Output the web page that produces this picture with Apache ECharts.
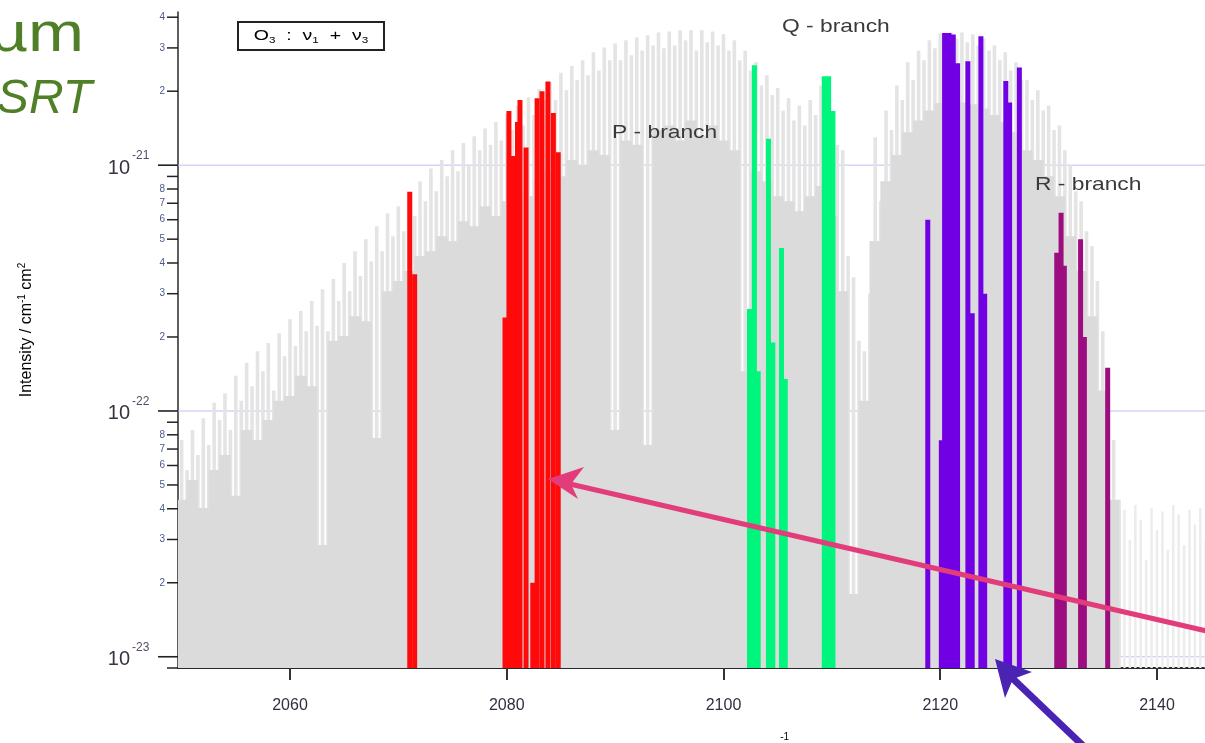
<!DOCTYPE html>
<html><head><meta charset="utf-8">
<script src="https://cdn.jsdelivr.net/npm/echarts@6/dist/echarts.min.js"></script>
<style>html,body{margin:0;padding:0;background:#fff;overflow:hidden}#c{width:1205px;height:743px}</style>
</head><body><div id="c"></div>
<script>
// ---- axes ----
const X_MIN = 2049.665, X_MAX = 2144.43;
const Y_MIN = 9e-24, Y_MAX = 4.2e-21;
const xTickValues = [2060, 2080, 2100, 2120, 2140];
const yMajorValues = [1e-23, 1e-22, 1e-21];
const yMajorExponents = ['-23', '-22', '-21'];
const yMinorValues = [9e-24, 2e-23, 3e-23, 4e-23, 5e-23, 6e-23, 7e-23, 8e-23, 9e-23,
  2e-22, 3e-22, 4e-22, 5e-22, 6e-22, 7e-22, 8e-22, 9e-22, 2e-21, 3e-21, 4e-21];
const yMinorLabels = ['', '2', '3', '4', '5', '6', '7', '8', '',
  '2', '3', '4', '5', '6', '7', '8', '', '2', '3', '4'];

// ---- grey spectrum: strong lines (0.5 cm-1 grid from 2050) ----
const strongStart = 2050, strongStep = 0.5;
const strongIntensity = [
  7.62e-23, 5.75e-23, 8.37e-23, 6.62e-23, 9.35e-23, 7.27e-23, 1.08e-22, 9.19e-23, 1.18e-22, 8.37e-23,
  1.39e-22, 1.10e-22, 1.57e-22, 1.26e-22, 1.75e-22, 1.45e-22, 1.89e-22, 1.21e-22, 2.07e-22, 1.67e-22,
  2.36e-22, 1.84e-22, 2.55e-22, 2.11e-22, 2.80e-22, 2.22e-22, 3.13e-22, 2.11e-22, 3.44e-22, 2.80e-22,
  4.00e-22, 3.07e-22, 4.47e-22, 3.54e-22, 5.00e-22, 4.07e-22, 5.65e-22, 4.47e-22, 6.38e-22, 5.14e-22,
  6.81e-22, 5.39e-22, 7.48e-22, 6.21e-22, 8.61e-22, 7.14e-22, 9.70e-22, 7.84e-22, 1.05e-21, 9.02e-22,
  1.15e-21, 9.45e-22, 1.23e-21, 1.00e-21, 1.31e-21, 1.15e-21, 1.41e-21, 1.21e-21, 1.50e-21, 1.26e-21,
  1.62e-21, 1.39e-21, 1.75e-21, 1.45e-21, 1.89e-21, 1.60e-21, 2.04e-21, 1.84e-21, 2.18e-21, 1.84e-21,
  2.38e-21, 2.02e-21, 2.53e-21, 2.22e-21, 2.67e-21, 2.32e-21, 2.88e-21, 2.43e-21, 3.01e-21, 2.67e-21,
  3.13e-21, 2.67e-21, 3.22e-21, 2.80e-21, 3.31e-21, 2.93e-21, 3.38e-21, 3.07e-21, 3.47e-21, 2.99e-21,
  3.50e-21, 3.07e-21, 3.54e-21, 3.22e-21, 3.54e-21, 2.93e-21, 3.54e-21, 3.16e-21, 3.50e-21, 3.07e-21,
  3.41e-21, 2.93e-21, 3.22e-21, 2.67e-21, 2.93e-21, 2.43e-21, 2.62e-21, 2.11e-21, 2.32e-21, 1.93e-21,
  2.06e-21, 1.67e-21, 1.87e-21, 1.52e-21, 1.75e-21, 1.45e-21, 1.84e-21, 1.60e-21, 2.11e-21, 1.84e-21,
  1.67e-21, 1.21e-21, 1.15e-21, 4.27e-22, 3.50e-22, 1.93e-22, 1.75e-22, 3.00e-22, 1.30e-21, 7.14e-22,
  1.67e-21, 1.39e-21, 2.11e-21, 1.84e-21, 2.62e-21, 2.22e-21, 2.93e-21, 2.67e-21, 3.22e-21, 2.99e-21,
  3.44e-21, 3.22e-21, 3.47e-21, 3.28e-21, 3.47e-21, 3.16e-21, 3.41e-21, 3.07e-21, 3.28e-21, 2.93e-21,
  3.07e-21, 2.67e-21, 2.88e-21, 2.43e-21, 2.62e-21, 2.22e-21, 2.22e-21, 1.84e-21, 2.02e-21, 1.67e-21,
  1.75e-21, 1.39e-21, 1.45e-21, 1.15e-21, 1.00e-21, 7.84e-22, 7.14e-22, 5.39e-22, 4.69e-22, 3.38e-22,
  2.11e-22, 1.32e-22, 7.62e-23, 4.35e-23
];
// ---- grey spectrum: dense weak background (1 cm-1 grid from 2050) ----
const baseStart = 2050, baseStep = 1;
const baseIntensity = [
  4.35e-23, 5.24e-23, 4.03e-23, 5.75e-23, 6.62e-23, 4.52e-23, 8.37e-23, 7.62e-23, 9.19e-23, 1.10e-22,
  1.15e-22, 1.39e-22, 1.26e-22, 2.85e-23, 1.93e-22, 2.02e-22, 2.43e-22, 2.32e-22, 7.76e-23, 3.07e-22,
  3.38e-22, 3.71e-22, 4.27e-22, 4.47e-22, 5.14e-22, 4.91e-22, 5.92e-22, 5.65e-22, 6.81e-22, 6.21e-22,
  7.14e-22, 7.84e-22, 7.48e-22, 8.61e-22, 9.45e-22, 9.02e-22, 1.05e-21, 1.00e-21, 1.15e-21, 1.10e-21,
  8.37e-23, 1.26e-21, 1.21e-21, 7.27e-23, 1.39e-21, 1.45e-21, 1.26e-21, 1.52e-21, 1.32e-21, 1.45e-21,
  1.26e-21, 1.15e-21, 1.45e-22, 9.45e-22, 8.61e-22, 7.48e-22, 7.14e-22, 6.50e-22, 7.48e-22, 8.22e-22,
  6.21e-22, 3.07e-22, 1.80e-23, 1.10e-22, 4.91e-22, 8.61e-22, 1.10e-21, 1.36e-21, 1.52e-21, 1.67e-21,
  1.79e-21, 1.80e-21, 1.80e-21, 1.77e-21, 1.70e-21, 1.60e-21, 1.50e-21, 1.36e-21, 1.15e-21, 1.05e-21,
  9.02e-22, 7.48e-22, 5.14e-22, 3.71e-22, 2.43e-22, 1.21e-22, 4.35e-23
];
// ---- faint lines beyond the band (0.5 cm-1 grid from 2137) ----
const faintStart = 2137, faintStep = 0.5;
const faintIntensity = [3.96e-23, 2.99e-23, 4.15e-23, 3.61e-23, 2.48e-23, 4.03e-23, 3.28e-23, 3.90e-23,
  2.72e-23, 4.15e-23, 3.80e-23, 2.85e-23, 3.96e-23, 3.45e-23, 4.03e-23, 2.99e-23];

// ---- highlighted lines ----
const redWavenumber = [2071.05, 2071.5, 2079.84, 2080.2, 2080.58, 2080.99, 2081.22, 2081.78, 2082.4, 2082.8, 2083.25, 2083.8, 2084.3, 2084.75];
const redIntensity = [7.8e-22, 3.6e-22, 2.4e-22, 1.66e-21, 1.09e-21, 1.5e-21, 1.84e-21, 1.18e-21, 2.0e-23, 1.87e-21, 2.0e-21, 2.19e-21, 1.63e-21, 1.13e-21];
const greenWavenumber = [2102.4, 2102.85, 2103.2, 2104.15, 2104.55, 2105.35, 2105.7, 2109.3, 2109.7, 2110.1];
const greenIntensity = [2.6e-22, 2.55e-21, 1.45e-22, 1.28e-21, 1.9e-22, 4.6e-22, 1.35e-22, 2.3e-21, 2.3e-21, 1.66e-21];
const purpleWavenumber = [2118.85, 2120.1, 2120.4, 2120.8, 2121.2, 2121.6, 2122.55, 2122.95, 2123.75, 2124.1, 2126.05, 2126.4, 2127.3];
const purpleIntensity = [6.0e-22, 7.6e-23, 3.45e-21, 3.45e-21, 3.4e-21, 2.6e-21, 2.65e-21, 2.5e-22, 3.35e-21, 3.0e-22, 2.2e-21, 1.8e-21, 2.5e-21];
const magentaWavenumber = [2130.75, 2131.15, 2131.45, 2132.95, 2133.3, 2135.45];
const magentaIntensity = [4.4e-22, 6.4e-22, 3.9e-22, 5.0e-22, 2.0e-22, 1.5e-22];

// ---- helpers ----
const FONT = 'Liberation Sans, Arial, sans-serif';
function onGrid(start, step, vals) { return vals.map((v, i) => [+(start + i * step).toFixed(3), v]); }
function pairs(ws, vs) { return ws.map((w, i) => [w, vs[i]]); }
function sticks(name, data, color, width, z) {
  return {
    type: 'custom', name, data, z, silent: true, clip: true, encode: { x: 0, y: 1 },
    renderItem(params, api) {
      const x = api.value(0), v = api.value(1);
      const top = api.coord([x, v]), bot = api.coord([x, Y_MIN]);
      let w = width;
      if (w === 'step') w = Math.abs(api.coord([x + 0.5, v])[0] - api.coord([x - 0.5, v])[0]) + 0.6;
      return { type: 'rect', shape: { x: top[0] - w / 2, y: top[1], width: w, height: Math.max(0, bot[1] - top[1]) }, style: { fill: color } };
    }
  };
}

const chart = echarts.init(document.getElementById('c'), null, { renderer: 'canvas', width: 1205, height: 743 });

const option = {
  animation: false,
  backgroundColor: '#ffffff',
  grid: { left: 178, right: 0, top: 12, bottom: 75, containLabel: false, outerBoundsMode: 'none' },
  xAxis: {
    type: 'value', min: X_MIN, max: X_MAX,
    axisLine: { show: true, onZero: false, lineStyle: { color: '#2a2a2a', width: 2 } },
    axisTick: { show: true, customValues: xTickValues, length: 12, lineStyle: { color: '#333', width: 2 } },
    axisLabel: { customValues: xTickValues, formatter: v => String(Math.round(v)), margin: 30,
      fontFamily: FONT, fontSize: 16, color: '#2e3142' },
    splitLine: { show: false }
  },
  yAxis: {
    type: 'log', logBase: 10, min: Y_MIN, max: Y_MAX,
    axisLine: { show: true, lineStyle: { color: '#2a2a2a', width: 1.5 } },
    axisTick: { show: false }, axisLabel: { show: false }, splitLine: { show: false }
  },
  series: [
    { // decade guide lines
      type: 'custom', z: 1, silent: true, clip: false, encode: { x: 0, y: 1 },
      data: yMajorValues.map(v => [X_MIN, v]),
      renderItem(params, api) {
        const v = api.value(1), a = api.coord([X_MIN, v]), b = api.coord([X_MAX, v]);
        return { type: 'line', shape: { x1: a[0], y1: a[1], x2: b[0], y2: b[1] }, style: { stroke: '#bcc0f4', lineWidth: 1 } };
      }
    },
    sticks('strong', onGrid(strongStart, strongStep, strongIntensity), '#e4e4e4', 3.6, 2),
    sticks('base', onGrid(baseStart, baseStep, baseIntensity), '#dbdbdb', 'step', 3),
    sticks('faint', onGrid(faintStart, faintStep, faintIntensity), '#ececec', 2.5, 2),
    sticks('red', pairs(redWavenumber, redIntensity), '#ff0a0a', 5, 4),
    sticks('green', pairs(greenWavenumber, greenIntensity), '#00f57d', 5, 4),
    sticks('purple', pairs(purpleWavenumber, purpleIntensity), '#7200e4', 5, 4),
    sticks('magenta', pairs(magentaWavenumber, magentaIntensity), '#9c0d80', 5, 4),
    { // y major ticks + labels
      type: 'custom', z: 6, silent: true, clip: false, encode: { x: 0, y: 1 },
      data: yMajorValues.map(v => [X_MIN, v]),
      renderItem(params, api) {
        const p = api.coord([X_MIN, api.value(1)]);
        const i = params.dataIndex;
        return { type: 'group', children: [
          { type: 'line', shape: { x1: p[0] - 20, y1: p[1], x2: p[0], y2: p[1] }, style: { stroke: '#222', lineWidth: 1.6 } },
          { type: 'text', style: { text: '10', x: p[0] - 48, y: p[1] + 3, align: 'right', verticalAlign: 'middle', textAlign: 'right', textVerticalAlign: 'middle', font: '20px ' + FONT, fill: '#3b3340' } },
          { type: 'text', style: { text: yMajorExponents[i], x: p[0] - 46, y: p[1] - 9, align: 'left', verticalAlign: 'middle', textAlign: 'left', textVerticalAlign: 'middle', font: '12px ' + FONT, fill: '#5a4a6a' } }
        ] };
      }
    },
    { // y minor ticks + labels
      type: 'custom', z: 6, silent: true, clip: false, encode: { x: 0, y: 1 },
      data: yMinorValues.map(v => [X_MIN, v]),
      renderItem(params, api) {
        const p = api.coord([X_MIN, api.value(1)]);
        const i = params.dataIndex;
        return { type: 'group', children: [
          { type: 'line', shape: { x1: p[0] - 11, y1: p[1], x2: p[0], y2: p[1] }, style: { stroke: '#222', lineWidth: 1.5 } },
          { type: 'text', style: { text: yMinorLabels[i], x: p[0] - 13, y: p[1], align: 'right', verticalAlign: 'middle', textAlign: 'right', textVerticalAlign: 'middle', font: '10px ' + FONT, fill: '#4a5a8a' } }
        ] };
      }
    }
  ],
  graphic: [
    { type: 'text', x: 84, y: 36, scaleX: 1.2, z: 50,
      style: { text: 'µm', x: 0, y: 0, font: '56px ' + FONT, fill: '#4f7f27', align: 'right', verticalAlign: 'middle', textAlign: 'right', textVerticalAlign: 'middle' } },
    { type: 'text', x: 92, y: 100, z: 50,
      style: { text: 'SRT', x: 0, y: 0, font: 'italic 48px ' + FONT, fill: '#4f7f27', align: 'right', verticalAlign: 'middle', textAlign: 'right', textVerticalAlign: 'middle' } },
    { type: 'rect', z: 50, shape: { x: 238, y: 22, width: 146, height: 28 }, style: { fill: '#ffffff', stroke: '#222', lineWidth: 2 } },
    { type: 'text', x: 311, y: 36, scaleX: 1.3, z: 51,
      style: { text: '{a|O}{b|3}{a|  :  ν}{b|1}{a|  +  ν}{b|3}', x: 0, y: 0, align: 'center', verticalAlign: 'middle', textAlign: 'center', textVerticalAlign: 'middle',
        rich: { a: { fontFamily: FONT, fontSize: 15, lineHeight: 18, color: '#333' }, b: { fontFamily: FONT, fontSize: 9, lineHeight: 18, color: '#4a6aa0', verticalAlign: 'bottom' } } } },
    { type: 'text', x: 612, y: 133, scaleX: 1.2, z: 50,
      style: { text: 'P - branch', x: 0, y: 0, font: '19px ' + FONT, fill: '#3a3a3a', align: 'left', verticalAlign: 'middle', textAlign: 'left', textVerticalAlign: 'middle' } },
    { type: 'text', x: 782, y: 27, scaleX: 1.2, z: 50,
      style: { text: 'Q - branch', x: 0, y: 0, font: '19px ' + FONT, fill: '#3a3a3a', align: 'left', verticalAlign: 'middle', textAlign: 'left', textVerticalAlign: 'middle' } },
    { type: 'text', x: 1035, y: 185, scaleX: 1.2, z: 50,
      style: { text: 'R - branch', x: 0, y: 0, font: '19px ' + FONT, fill: '#3a3a3a', align: 'left', verticalAlign: 'middle', textAlign: 'left', textVerticalAlign: 'middle' } },
    { type: 'text', x: 27, y: 330, rotation: Math.PI / 2, z: 50,
      style: { text: '{a|Intensity / cm}{s|-1}{a| cm}{s|2}', x: 0, y: 0, align: 'center', verticalAlign: 'middle', textAlign: 'center', textVerticalAlign: 'middle',
        rich: { a: { fontFamily: FONT, fontSize: 16, lineHeight: 20, color: '#333' }, s: { fontFamily: FONT, fontSize: 10, lineHeight: 20, color: '#333', verticalAlign: 'top' } } } },
    { type: 'text', x: 774, y: 753, z: 50,
      style: { text: '{a|cm}{s|-1}', x: 0, y: 0, align: 'center', verticalAlign: 'middle', textAlign: 'center', textVerticalAlign: 'middle',
        rich: { a: { fontFamily: FONT, fontSize: 16, lineHeight: 42, color: '#333' }, s: { fontFamily: FONT, fontSize: 10, lineHeight: 42, color: '#333', verticalAlign: 'top' } } } },
    // pink arrow
    { type: 'polyline', z: 60, shape: { points: [[1215, 633], [570, 484]] }, style: { stroke: '#e23c7b', lineWidth: 5, fill: null } },
    { type: 'polygon', z: 60, shape: { points: [[548, 479], [578, 499], [571, 484], [584, 467]] }, style: { fill: '#e23c7b' } },
    // purple arrow
    { type: 'polyline', z: 60, shape: { points: [[1098, 760], [1010, 676]] }, style: { stroke: '#4b23b3', lineWidth: 7, fill: null } },
    { type: 'polygon', z: 60, shape: { points: [[995, 659], [1005, 698], [1013, 679], [1032, 672]] }, style: { fill: '#4b23b3' } }
  ]
};
chart.setOption(option);
</script>
</body></html>
